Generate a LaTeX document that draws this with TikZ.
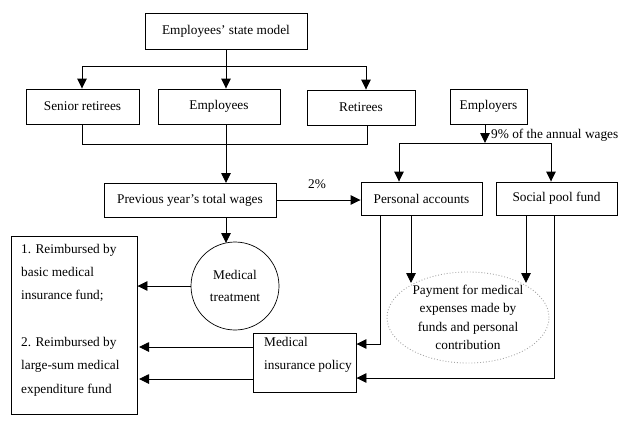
\documentclass[tikz,border=0pt]{standalone}
\usepackage{fontspec}
\setmainfont{Liberation Serif}
\usetikzlibrary{arrows.meta,shapes.geometric}
\begin{document}
\begin{tikzpicture}[x=1pt,y=-1pt,
  every node/.style={font=\fontsize{13.3}{16}\selectfont},
  box/.style={draw,line width=0.9pt,inner sep=0pt},
  conn/.style={line width=0.9pt},
  arr/.style={conn,-{Triangle[length=10pt,width=9.5pt]}},
  lbl/.style={inner sep=0pt,anchor=center}]
\useasboundingbox (0,0) rectangle (638,424);
% boxes
\node[box,minimum width=162pt,minimum height=36pt] (state) at (226,31) {Employees’ state model};
\node[box,minimum width=113pt,minimum height=35pt] (senior) at (82.5,106.5) {Senior retirees};
\node[box,minimum width=122pt,minimum height=35pt] (emp) at (219,106.5) {Employees};
\node[box,minimum width=108pt,minimum height=35pt] (ret) at (361,107.5) {Retirees};
\node[box,minimum width=77pt,minimum height=35pt] (employers) at (488.5,106.5) {Employers};
\node[box,minimum width=172pt,minimum height=34pt] (prev) at (190,200) {Previous year’s total wages};
\node[box,minimum width=121pt,minimum height=33pt] (pers) at (421.5,198.5) {Personal accounts};
\node[box,minimum width=121pt,minimum height=33pt] (pool) at (556.5,198.5) {Social pool fund};
\node[draw,circle,line width=0.7pt,minimum size=88pt,inner sep=0pt,align=center,
      font=\fontsize{13.3}{22}\selectfont] (treat) at (235,286) {Medical\\treatment};
\node[draw=gray!70,dotted,line width=0.9pt,ellipse,minimum width=162pt,minimum height=91pt,inner sep=0pt,
      align=center,font=\fontsize{13.3}{18.3}\selectfont] (pay) at (468,317.5)
      {Payment for medical\\expenses made by\\funds and personal\\contribution};
\node[box,minimum width=103pt,minimum height=59pt] (policy) at (304.5,362.5) {};
\node[lbl,anchor=west,align=left,font=\fontsize{13.3}{23}\selectfont] (policytxt) at (264,354.5)
      {Medical\\insurance policy};
\node[box,minimum width=126pt,minimum height=178pt] (reimb) at (74,325) {};
\node[lbl,anchor=west,align=left,font=\fontsize{13.3}{23.3}\selectfont] (reimbtxt) at (21,320)
      {1. Reimbursed by\\basic medical\\insurance fund;\\[23.3pt]2. Reimbursed by\\large-sum medical\\expenditure fund};
% labels
\node[lbl] (two) at (317,184) {2\%};
\node[lbl,anchor=west] (nine) at (491,135) {9\% of the annual wages};
% coordinates
\coordinate (t1) at (226,66);
\coordinate (tl) at (82,66);
\coordinate (tr) at (366,66);
\coordinate (b1) at (82,144);
\coordinate (b2) at (367,144);
\coordinate (e1) at (485,143);
\coordinate (el) at (399,143);
\coordinate (er) at (551,143);
\coordinate (p1) at (380,344);
\coordinate (p2) at (554,378);
\coordinate (ct) at (226,243);
% connectors
\draw[conn] (state.south) -- (t1);
\draw[conn] (tl) -- (tr);
\draw[arr] (tl) -- (tl |- senior.north);
\draw[arr] (t1) -- (t1 |- emp.north);
\draw[arr] (tr) -- (tr |- ret.north);
\draw[conn] (b1 |- senior.south) -- (b1) -- (b2) -- (b2 |- ret.south);
\draw[arr] (226,124) -- (226,183);
\draw[arr] (prev.east) -- (pers.west |- prev.east);
\draw[arr] (e1 |- employers.south) -- (e1);
\draw[conn] (el) -- (er);
\draw[arr] (el) -- (el |- pers.north);
\draw[arr] (er) -- (er |- pool.north);
\draw[arr] (ct |- prev.south) -- (ct);
\draw[arr] (treat.west) -- (reimb.east |- treat.west);
\draw[arr] (411,215) -- (411,283);
\draw[arr] (526,215) -- (526,283);
\draw[arr] (p1 |- pers.south) -- (p1) -- (p1 -| policy.east);
\draw[arr] (p2 |- pool.south) -- (p2) -- (p2 -| policy.east);
\draw[arr] (policy.west |- 0,347) -- (139,347);
\draw[arr] (policy.west |- 0,379) -- (139,379);
\end{tikzpicture}
\end{document}
